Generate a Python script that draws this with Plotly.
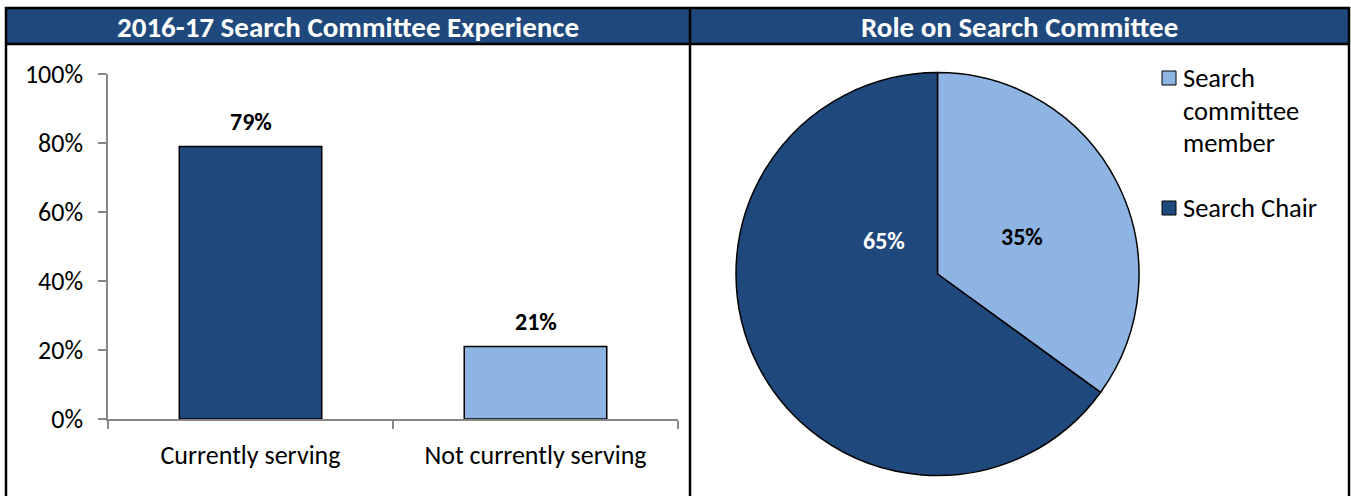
import plotly.graph_objects as go

# ---- data ----
bar_categories = ["Currently serving", "Not currently serving"]
bar_values = [79, 21]
y_tick_values = [0, 20, 40, 60, 80, 100]
y_tick_labels = ["0%", "20%", "40%", "60%", "80%", "100%"]

pie_labels = ["Search<br>committee<br>member", "Search Chair"]
pie_values = [35, 65]

left_title = "2016-17 Search Committee Experience"
right_title = "Role on Search Committee"

# ---- style ----
W, H = 1351, 496
DARK = "#1F497D"
LIGHT = "#8DB4E2"
FONT = "Calibri, Carlito, Lato, sans-serif"
AXIS_GREY = "#868686"
PIE_COLORS = [LIGHT, DARK]


def px_x(v):
    return v / W


def px_y(v):
    return 1 - v / H


fig = go.Figure()

fig.add_trace(go.Bar(
    x=bar_categories,
    y=bar_values,
    marker=dict(color=[DARK, LIGHT], line=dict(color="black", width=1.5)),
    width=0.5,
    showlegend=False,
    hoverinfo="skip",
    xaxis="x", yaxis="y",
))

fig.add_trace(go.Pie(
    labels=pie_labels,
    values=pie_values,
    marker=dict(colors=PIE_COLORS, line=dict(color="black", width=1.5)),
    sort=False,
    direction="clockwise",
    rotation=0,
    textinfo="none",
    hoverinfo="skip",
    showlegend=False,
    domain=dict(x=[px_x(736), px_x(1139)], y=[px_y(476), px_y(72)]),
))

annotations = []
# value labels above the bars
for cat, v in zip(bar_categories, bar_values):
    annotations.append(dict(
        x=cat, y=v, xref="x", yref="y", text=f"<b>{v}%</b>",
        showarrow=False, yshift=25, yanchor="middle",
        font=dict(family=FONT, size=24, color="black"),
    ))

# percentage labels inside the pie slices
pie_label_pos = [(1022, 237, "black"), (884, 240, "white")]
for (lx, ly, col), v in zip(pie_label_pos, pie_values):
    annotations.append(dict(
        x=px_x(lx), y=px_y(ly), xref="paper", yref="paper",
        xanchor="center", yanchor="middle",
        text=f"<b>{v}%</b>", showarrow=False,
        font=dict(family=FONT, size=24, color=col),
    ))

# panel headings
for title, cx in [(left_title, 348), (right_title, 1019)]:
    annotations.append(dict(
        x=px_x(cx), y=px_y(27), xref="paper", yref="paper",
        xanchor="center", yanchor="middle",
        text=f"<b>{title}</b>", showarrow=False,
        font=dict(family=FONT, size=29, color="white"),
    ))

shapes = [
    # header bar
    dict(type="rect", xref="paper", yref="paper",
         x0=px_x(6), x1=px_x(1349), y0=px_y(44), y1=px_y(8),
         fillcolor=DARK, line=dict(width=0), layer="below"),
    # outer frame and divider
    dict(type="line", xref="paper", yref="paper",
         x0=px_x(5), x1=px_x(1350), y0=px_y(8), y1=px_y(8),
         line=dict(color="black", width=2.5)),
    dict(type="line", xref="paper", yref="paper",
         x0=px_x(5), x1=px_x(1350), y0=px_y(44), y1=px_y(44),
         line=dict(color="black", width=2.5)),
    dict(type="line", xref="paper", yref="paper",
         x0=px_x(6), x1=px_x(6), y0=px_y(7), y1=0,
         line=dict(color="black", width=2.5)),
    dict(type="line", xref="paper", yref="paper",
         x0=px_x(690), x1=px_x(690), y0=px_y(7), y1=0,
         line=dict(color="black", width=2.5)),
    dict(type="line", xref="paper", yref="paper",
         x0=px_x(1349), x1=px_x(1349), y0=px_y(7), y1=0,
         line=dict(color="black", width=2.5)),
]

# legend for the pie: swatch + label lines per slice
legend_swatch_mid = [78, 208]   # px, swatch centre = first text line
legend_line_gap = 32.5          # px between wrapped label lines
for mid, lab, col in zip(legend_swatch_mid, pie_labels, PIE_COLORS):
    shapes.append(dict(
        type="rect", xref="paper", yref="paper",
        x0=px_x(1162), x1=px_x(1176), y0=px_y(mid + 7), y1=px_y(mid - 7),
        fillcolor=col, line=dict(color="black", width=1),
    ))
    for i, line in enumerate(lab.split("<br>")):
        annotations.append(dict(
            x=px_x(1181), y=px_y(mid + i * legend_line_gap),
            xref="paper", yref="paper",
            xanchor="left", yanchor="middle", align="left",
            text=line, showarrow=False,
            font=dict(family=FONT, size=26.5, color="black"),
        ))

fig.update_layout(
    width=W, height=H,
    margin=dict(l=0, r=0, t=0, b=0, autoexpand=False),
    paper_bgcolor="white",
    plot_bgcolor="white",
    font=dict(family=FONT, color="black"),
    showlegend=False,
    xaxis=dict(
        domain=[px_x(108), px_x(678)],
        showgrid=False, showline=True, linecolor=AXIS_GREY, linewidth=1.5,
        ticks="outside", ticklen=8, tickcolor=AXIS_GREY, tickwidth=1.5,
        tickson="boundaries",
        tickfont=dict(family=FONT, size=26, color="black"),
        ticklabelstandoff=12,
        fixedrange=True,
    ),
    yaxis=dict(
        domain=[px_y(419), px_y(74)],
        range=[0, 100],
        tickvals=y_tick_values, ticktext=y_tick_labels,
        showgrid=False, zeroline=False,
        showline=True, linecolor=AXIS_GREY, linewidth=1.5,
        ticks="outside", ticklen=8, tickcolor=AXIS_GREY, tickwidth=1.5,
        tickfont=dict(family=FONT, size=26, color="black"),
        ticklabelstandoff=10,
        fixedrange=True,
    ),
    annotations=annotations,
    shapes=shapes,
)

fig.write_html("out.html")
